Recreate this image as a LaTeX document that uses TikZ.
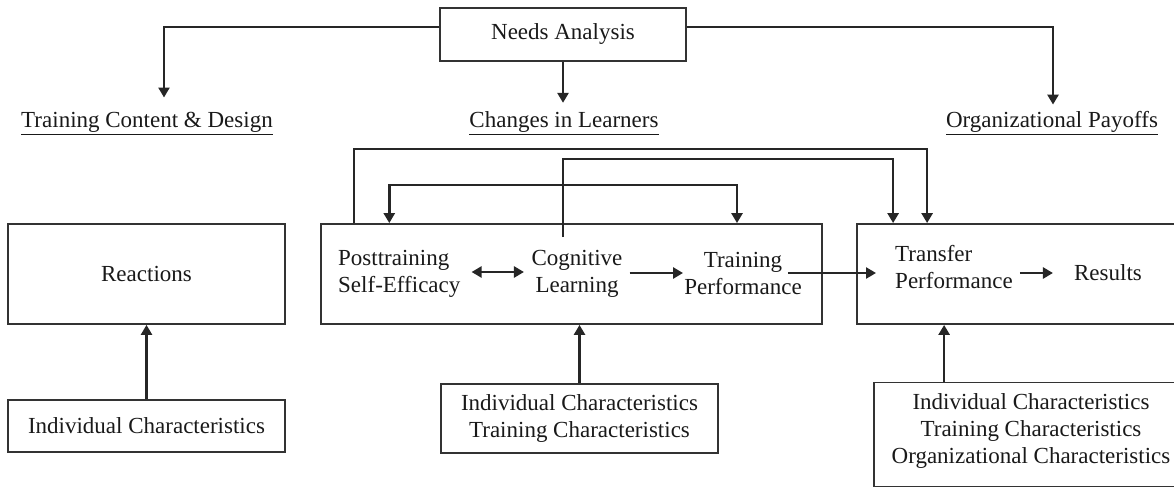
\documentclass[tikz,border=0pt]{standalone}
\usepackage{fontspec}
\setmainfont{Liberation Serif}
\usetikzlibrary{arrows.meta,calc}
\begin{document}
\begin{tikzpicture}[x=1pt,y=1pt,
  txt/.style={font=\fontsize{23}{27}\selectfont, inner sep=0pt, text=black!90},
  box/.style={draw=black!80, line width=1.8pt},
  conn/.style={line width=2.5pt, draw=black!85, -{Triangle[length=10pt,width=11pt]}},
  both/.style={line width=2.5pt, draw=black!85, {Triangle[length=10pt,width=11pt]}-{Triangle[length=10pt,width=11pt]}},
  lbl/.style={txt, anchor=base}]
\useasboundingbox (0,0) rectangle (1174,488);
\clip (0,0) rectangle (1174,488);

% top
\node[box, txt, minimum width=246pt, minimum height=53pt] (na) at (563,453.5) {Needs Analysis};
\node[lbl] (tcd) at (147,360) {\underline{Training Content \& Design}};
\node[lbl] (cil) at (564,360) {\underline{Changes in Learners}};
\node[lbl] (op) at (1052,360) {\underline{Organizational Payoffs}};

% middle row boxes
\node[box, txt, minimum width=277pt, minimum height=100pt] (react) at (146.5,214) {Reactions};
\node[box, minimum width=501pt, minimum height=100pt] (mid) at (571.5,214) {};
\node[box, minimum width=330pt, minimum height=100pt] (xfer) at (1022,214) {};

\node[txt, align=left, anchor=west] (pse) at (338,214.5) {Posttraining\\Self-Efficacy};
\node[txt, align=center] (cl) at (577,214.5) {Cognitive\\Learning};
\node[txt, align=center] (tp) at (743,214.5) {Training\\Performance};
\node[txt, align=left, anchor=west] (tr) at (895,220.5) {Transfer\\Performance};
\node[txt] (res) at (1108,215) {Results};

% bottom boxes
\node[box, txt, minimum width=277pt, minimum height=52pt] (ic1) at (146.5,62) {Individual Characteristics};
\node[box, txt, align=center, minimum width=277pt, minimum height=69pt] (ic2) at (579.5,69.5) {Individual Characteristics\\Training Characteristics};
\node[box, minimum width=314pt, minimum height=104pt] (ic3) at (1031,53.5) {};
\node[txt, align=center] (ic3t) at (1031,57.5) {Individual Characteristics\\Training Characteristics\\Organizational Characteristics};

% needs analysis connectors
\draw[conn] ([yshift=7.5pt]na.west) -| ($(tcd.north)+(17,15)$);
\draw[conn] (na.south) -- ($(na.south |- cil.north)+(0,9)$);
\draw[conn] ([yshift=7.5pt]na.east) -| ($(op.north)+(1,7)$);

% upper feedback lines
\draw[conn] ($(mid.north west)+(34,0)$) -- ++(0,74) -| ($(xfer.north west)+(71,0)$);
\draw[conn] ($(cl.north |- mid.north)+(-14,-14)$) |- ($(xfer.north west)+(37,64)$) -- ($(xfer.north west)+(37,0)$);
\draw[both] ($(pse.north |- mid.north)+(-10,0)$) -- ++(0,38) -| ($(tp.north |- mid.north)+(-6,0)$);

% inner arrows
\draw[both, shorten <=11pt, shorten >=7.5pt] ([yshift=1.5pt]pse.east) -- ([yshift=1.5pt]cl.west);
\draw[conn, shorten <=7pt, shorten >=1pt] ([yshift=0.5pt]cl.east) -- ([yshift=0.5pt]tp.west);
\draw[conn] ($(tp.east)+(-14,0.5)$) -- ($(tp.east -| tr.west)+(-19,0.5)$);
\draw[conn, shorten <=7pt, shorten >=21pt] (tr.east |- res.west) -- (res.west);

% bottom arrows
\draw[conn] (ic1.north) -- (react.south);
\draw[conn] (ic2.north) -- (ic2.north |- mid.south);
\draw[conn] ($(ic3.north west)+(71,0)$) -- ($(ic3.north west |- xfer.south)+(71,0)$);
\end{tikzpicture}
\end{document}
